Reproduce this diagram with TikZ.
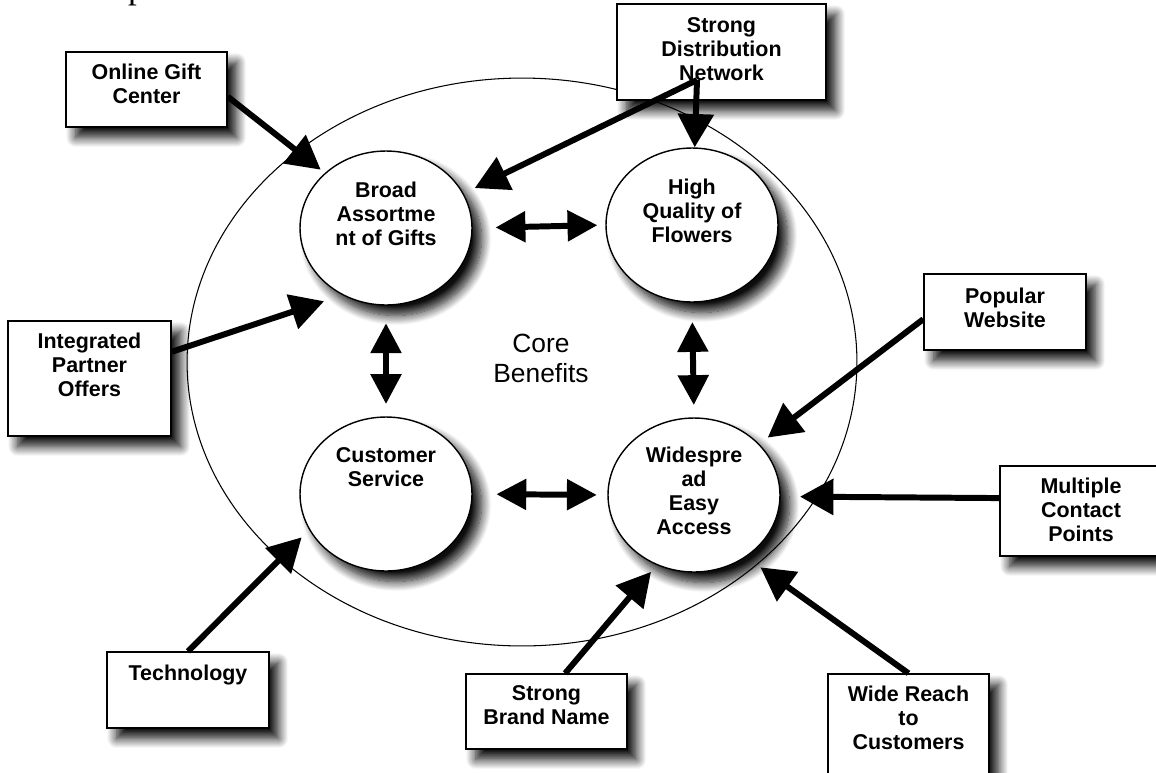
\documentclass[tikz,border=0pt]{standalone}
\usepackage{fontspec}
\setmainfont{Liberation Sans}
\newfontfamily\pagefont{Liberation Serif}
\usetikzlibrary{arrows.meta,shapes.geometric,shadows.blur}
\tikzset{
  softshadow/.style={blur shadow={shadow xshift=5.5pt, shadow yshift=-6pt, shadow blur radius=5.5pt, shadow blur steps=12, shadow opacity=95}},
  benefit/.style={ellipse, draw, line width=0.8pt, fill=white, minimum width=3.44cm, minimum height=3.08cm, inner sep=0pt, softshadow},
  source/.style={rectangle, draw, line width=0.8pt, fill=white, inner sep=0pt, softshadow},
  boxtext/.style={font=\fontsize{12.2}{13.6}\selectfont\bfseries, align=center, anchor=north, inner sep=0pt},
  feed/.style={-{Triangle[length=19pt,width=20pt]}, line width=3.4pt},
  link/.style={{Triangle[length=17pt,width=17pt]}-{Triangle[length=17pt,width=17pt]}, line width=3.4pt}
}
\begin{document}
\begin{tikzpicture}[x=0.02cm, y=-0.02cm]
  \useasboundingbox (0,0) rectangle (1156,772);
  % cut text above
  \node[font=\pagefont\fontsize{20}{24}\selectfont, anchor=base, inner sep=0pt] (pfrag) at (137,-2) {p};

  % outer ring
  \node[draw, ellipse, line width=0.6pt, minimum width=13.4cm, minimum height=11.36cm, inner sep=0pt] (core) at (522,362) {};
  \node[font=\fontsize{15}{17}\selectfont, align=center, anchor=north, inner sep=0pt] (core-t) at (541,334) {Core\\Benefits};

  % benefits
  \node[benefit] (broad) at (386,228) {};
  \node[benefit] (high) at (692,225) {};
  \node[benefit] (cust) at (386,494) {};
  \node[benefit] (wide) at (694,495) {};
  \node[boxtext] (broad-t) at (386,182) {Broad\\Assortme\\nt of Gifts};
  \node[boxtext] (high-t) at (692,179) {High\\Quality of\\Flowers};
  \node[boxtext] (cust-t) at (386,447) {Customer\\Service};
  \node[boxtext] (wide-t) at (694,447) {Widespre\\ad\\Easy\\Access};

  % sources
  \node[source, minimum width=3.22cm, minimum height=1.5cm] (gift) at (146.5,89.5) {};
  \node[source, minimum width=4.18cm, minimum height=1.92cm] (dist) at (721.5,52) {};
  \node[source, minimum width=3.26cm, minimum height=2.3cm] (partner) at (89.5,378.5) {};
  \node[source, minimum width=3.24cm, minimum height=1.52cm] (tech) at (188,690) {};
  \node[source, minimum width=3.24cm, minimum height=1.52cm] (popular) at (1005,312) {};
  \node[source, minimum width=3.24cm, minimum height=1.8cm] (multiple) at (1081,511) {};
  \node[source, minimum width=3.22cm, minimum height=2.02cm] (reach) at (908.5,724.5) {};
  \node[source, minimum width=3.22cm, minimum height=1.5cm] (brand) at (546.5,711.5) {};

  \node[boxtext] (gift-t) at (146.5,63.5) {Online Gift\\Center};
  \node[boxtext] (dist-t) at (721.5,17.5) {Strong\\Distribution\\Network};
  \node[boxtext] (partner-t) at (89.5,332.5) {Integrated\\Partner\\Offers};
  \node[boxtext] (tech-t) at (188,664.5) {Technology};
  \node[boxtext] (popular-t) at (1005,287.5) {Popular\\Website};
  \node[boxtext] (multiple-t) at (1081,477.5) {Multiple\\Contact\\Points};
  \node[boxtext] (reach-t) at (908.5,685.5) {Wide Reach\\to\\Customers};
  \node[boxtext] (brand-t) at (546.5,685.5) {Strong\\Brand Name};

  % arrows into the benefits
  \coordinate (distout) at (697,80);
  \draw[feed, shorten >=3pt] (gift.-5) -- (broad.138);
  \draw[feed, shorten >=7pt] (distout) -- (broad.24);
  \draw[feed] (distout) -- (high.88);
  \draw[feed, shorten >=11pt] (partner.18) -- (broad.237);
  \draw[feed, shorten >=6pt] (tech.north) -- (cust.205);
  \draw[feed, shorten >=6pt] (popular.185) -- (wide.38);
  \draw[feed, shorten >=11pt] (multiple.171) -- (wide.-1);
  \draw[feed, shorten >=5pt] (brand.64) -- (wide.242);
  \draw[feed, shorten >=10pt] (reach.north) -- (wide.-50);

  % links between benefits
  \draw[link, shorten <=13pt, shorten >=4.5pt] (broad.east) -- (high.west);
  \draw[link, shorten <=10pt, shorten >=7pt] (broad.south) -- (cust.north);
  \draw[link, shorten <=11pt, shorten >=7pt] (high.south) -- (wide.north);
  \draw[link, shorten <=13.5pt, shorten >=6pt] (cust.east) -- (wide.west);
\end{tikzpicture}
\end{document}
